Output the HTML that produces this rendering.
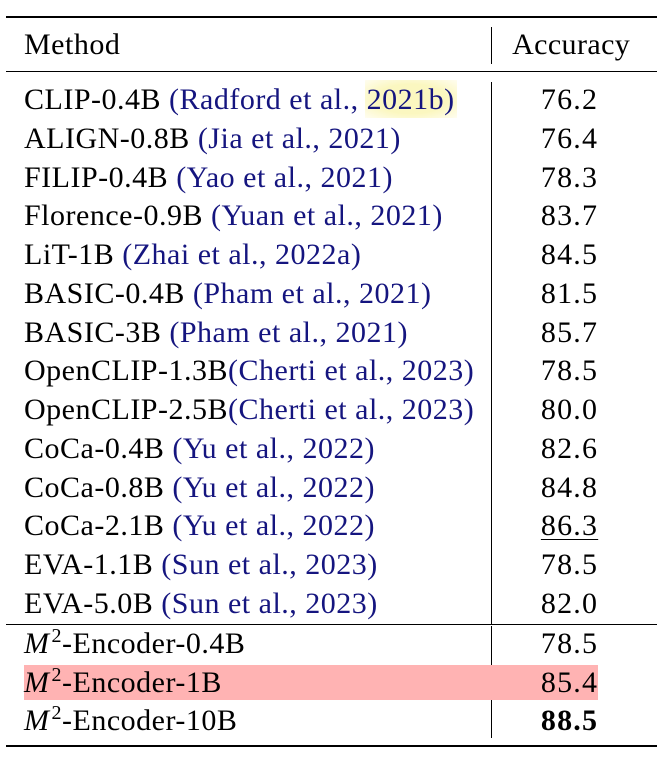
<!DOCTYPE html>
<html><head><meta charset="utf-8"><style>
body{margin:0;width:657px;height:758px;background:#fff;position:relative;overflow:hidden;font-family:"Liberation Serif",serif;font-size:30px;color:#000}
.r{position:absolute;left:0;width:657px;height:38px;line-height:38px}
.m{position:absolute;left:24px;white-space:nowrap;letter-spacing:0.5px}
.a{position:absolute;right:60px;text-align:right;letter-spacing:1.2px;margin-right:-1.2px}
.c{color:#15157f}
.h{position:absolute;left:6px;width:651px;background:#000}
.v{position:absolute;left:491px;width:1.3px;background:#000}
i{font-family:"Liberation Serif",serif}
sup{font-size:20px;vertical-align:0;position:relative;top:-11px;margin-left:2px}
</style></head><body>
<div class="h" style="top:16px;height:2px"></div>
<div class="h" style="top:71px;height:1.3px"></div>
<div class="h" style="top:624px;height:1.3px"></div>
<div class="h" style="top:745px;height:2.3px"></div>
<div class="v" style="top:27px;height:37px"></div>
<div class="v" style="top:82px;height:542px"></div>
<div class="v" style="top:626px;height:112px"></div>
<div style="position:absolute;left:365px;top:80px;width:92px;height:38px;background:radial-gradient(ellipse at center,#fbf7c0 55%,#fffdf0 100%)"></div>
<div style="position:absolute;left:24px;top:665px;width:574px;height:35px;background:#ffb3b3"></div>
<div class="r" style="top:26px"><span class="m">Method</span><span class="a" style="right:28px;letter-spacing:0.4px">Accuracy</span></div>
<div id="rows"></div>
<script>
const methods=["CLIP-0.4B","ALIGN-0.8B","FILIP-0.4B","Florence-0.9B","LiT-1B","BASIC-0.4B","BASIC-3B","OpenCLIP-1.3B","OpenCLIP-2.5B","CoCa-0.4B","CoCa-0.8B","CoCa-2.1B","EVA-1.1B","EVA-5.0B"];
const cites=[" (Radford et al., 2021b)"," (Jia et al., 2021)"," (Yao et al., 2021)"," (Yuan et al., 2021)"," (Zhai et al., 2022a)"," (Pham et al., 2021)"," (Pham et al., 2021)","(Cherti et al., 2023)","(Cherti et al., 2023)"," (Yu et al., 2022)"," (Yu et al., 2022)"," (Yu et al., 2022)"," (Sun et al., 2023)"," (Sun et al., 2023)"];
const accs=["76.2","76.4","78.3","83.7","84.5","81.5","85.7","78.5","80.0","82.6","84.8","86.3","78.5","82.0"];
const m2names=["-Encoder-0.4B","-Encoder-1B","-Encoder-10B"];
const m2accs=["78.5","85.4","88.5"];
const root=document.getElementById('rows');
methods.forEach((m,i)=>{
  const r=document.createElement('div');r.className='r';r.style.top=(81+i*38.77)+'px';
  
  
  const under=accs[i]==="86.3"?' style="text-decoration:underline;text-underline-offset:4px;text-decoration-thickness:1px"':'';
  r.innerHTML='<span class="m">'+m+'<span class="c">'+cites[i]+'</span></span><span class="a"'+under+'>'+accs[i]+'</span>';
  root.appendChild(r);
});
m2names.forEach((m,i)=>{
  const r=document.createElement('div');r.className='r';r.style.top=(625+i*38.5)+'px';
  
  
  const b=i===2?' style="font-weight:bold"':'';
  r.innerHTML='<span class="m"><i>M</i><sup>2</sup>'+m+'</span><span class="a"'+b+'>'+m2accs[i]+'</span>';
  root.appendChild(r);
});
</script>
</body></html>
